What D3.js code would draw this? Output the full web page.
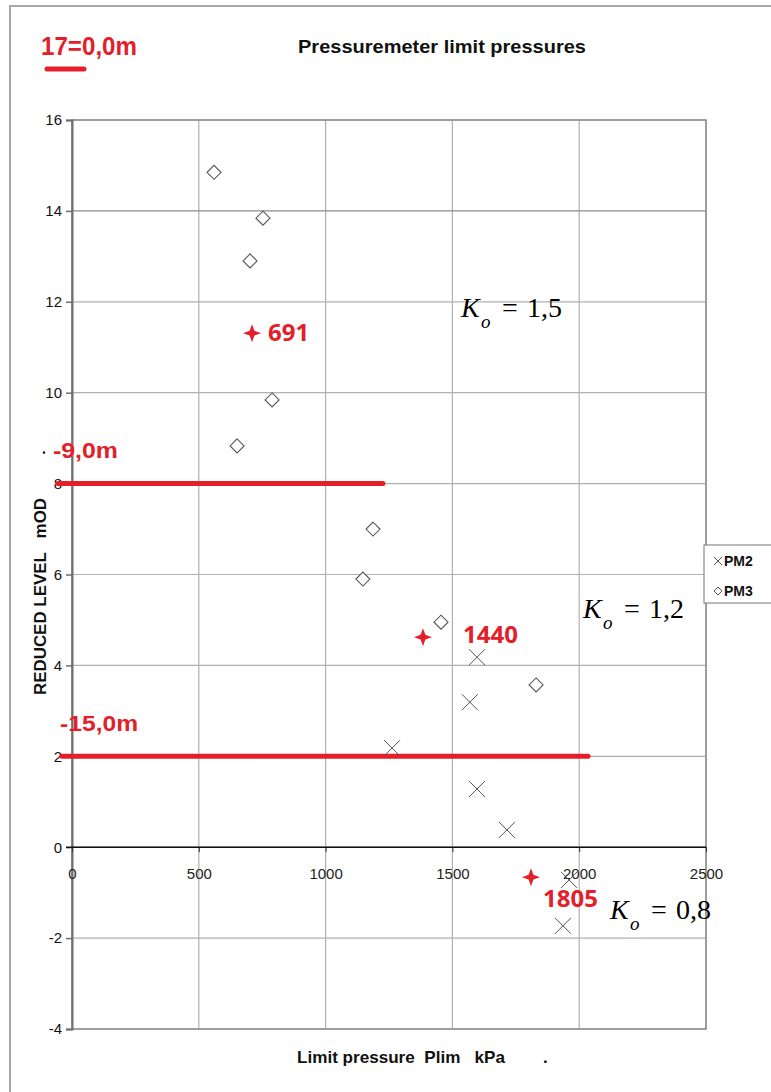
<!DOCTYPE html>
<html><head><meta charset="utf-8">
<script src="https://cdn.jsdelivr.net/npm/d3@7"></script>
<style>body{margin:0;background:#fff}svg{display:block}</style>
</head><body>
<svg id="c" width="771" height="1092"></svg>
<script>
// ---- data ----
const xTicks = [0, 500, 1000, 1500, 2000, 2500];
const yTicks = [-4, -2, 0, 2, 4, 6, 8, 10, 12, 14, 16];
const pm2X = [1597, 1569, 1262, 1597, 1715, 1960, 1936];
const pm2Y = [4.18, 3.19, 2.18, 1.28, 0.38, -0.72, -1.73];
const pm3X = [560, 753, 702, 789, 651, 1187, 1147, 1455, 1830];
const pm3Y = [14.85, 13.84, 12.9, 9.84, 8.83, 7.0, 5.9, 4.95, 3.57];
const starX = [710, 1384, 1810];
const starY = [11.31, 4.62, -0.66];
const starLabels = ["691", "1440", "1805"];
const levelLineY = [8, 2];
const levelLineX0 = [-55, -40];
const levelLineX1 = [1226, 2035];
const levelLabels = ["-9,0m", "-15,0m"];
const koLabels = ["1,5", "1,2", "0,8"];
const koX = [1534, 2015, 2121];
const koY = [11.67, 5.04, -1.58];
const seriesNames = ["PM2", "PM3"];

// ---- layout ----
const svg = d3.select("#c");
const x = d3.scaleLinear().domain([0, 2500]).range([72, 706]);
const y = d3.scaleLinear().domain([-4, 16]).range([1029, 120]);
const red = "#e3202a";
const sans = "Liberation Sans, Arial, sans-serif";

// outer frame
svg.append("rect").attr("x", 10).attr("y", 6).attr("width", 775).attr("height", 1100)
  .attr("fill", "none").attr("stroke", "#a8a8a8").attr("stroke-width", 2);

// grid
svg.append("g").selectAll("line").data(xTicks).join("line")
  .attr("x1", d => x(d)).attr("x2", d => x(d)).attr("y1", y(16)).attr("y2", y(-4))
  .attr("stroke", "#b0b0b0").attr("stroke-width", 1.2);
svg.append("g").selectAll("line").data(yTicks).join("line")
  .attr("x1", x(0)).attr("x2", x(2500)).attr("y1", d => y(d)).attr("y2", d => y(d))
  .attr("stroke", d => d === 14 ? "#8a8a8a" : "#b0b0b0").attr("stroke-width", 1.2);

// plot border
svg.append("rect").attr("x", x(0)).attr("y", y(16)).attr("width", x(2500) - x(0)).attr("height", y(-4) - y(16))
  .attr("fill", "none").attr("stroke", "#8c8c8c").attr("stroke-width", 1.5);

// y axis
const yAxis = svg.append("g").attr("transform", `translate(${x(0)},0)`)
  .call(d3.axisLeft(y).tickValues(yTicks).tickFormat(d => String(d)).tickSize(6).tickPadding(4));
yAxis.select(".domain").attr("stroke", "#6e6e6e").attr("stroke-width", 2);
yAxis.selectAll(".tick line").attr("stroke", "#6e6e6e").attr("stroke-width", 1.5);
yAxis.selectAll("text").attr("font-family", sans).attr("font-size", 15).attr("fill", "#111");

// x axis at 0
const xAxis = svg.append("g").attr("transform", `translate(0,${y(0)})`)
  .call(d3.axisBottom(x).tickValues(xTicks).tickFormat(d => String(d)).tickSize(5).tickPadding(16));
xAxis.select(".domain").remove();
svg.append("line").attr("x1", x(0) - 6).attr("x2", x(2500)).attr("y1", y(0)).attr("y2", y(0))
  .attr("stroke", "#111").attr("stroke-width", 1.6);
xAxis.selectAll(".tick line").attr("stroke", "#333");
xAxis.selectAll("text").attr("font-family", sans).attr("font-size", 15).attr("fill", "#222");

// red level lines
svg.append("g").selectAll("line").data(levelLineY).join("line")
  .attr("x1", (d, i) => x(levelLineX0[i])).attr("x2", (d, i) => x(levelLineX1[i]))
  .attr("y1", d => y(d)).attr("y2", d => y(d))
  .attr("stroke", red).attr("stroke-width", 5).attr("stroke-linecap", "round");

// level labels
svg.append("text").attr("x", x(-75)).attr("y", y(8) - 26).text(levelLabels[0])
  .attr("textLength", 65).attr("lengthAdjust", "spacingAndGlyphs")
  .attr("fill", red).attr("font-family", sans).attr("font-weight", "bold").attr("font-size", 22);
svg.append("circle").attr("cx", 44).attr("cy", y(8) - 31).attr("r", 1.3).attr("fill", "#222");
svg.append("text").attr("x", x(-47)).attr("y", y(2) - 25).text(levelLabels[1])
  .attr("textLength", 78).attr("lengthAdjust", "spacingAndGlyphs")
  .attr("fill", red).attr("font-family", sans).attr("font-weight", "bold").attr("font-size", 22);

// PM3 diamonds
const pm3 = pm3X.map((v, i) => [v, pm3Y[i]]);
svg.append("g").selectAll("path").data(pm3).join("path")
  .attr("transform", d => `translate(${x(d[0])},${y(d[1])})`)
  .attr("d", "M0,-7L7,0L0,7L-7,0Z").attr("fill", "#fff").attr("stroke", "#555").attr("stroke-width", 1.1);

// PM2 crosses
const pm2 = pm2X.map((v, i) => [v, pm2Y[i]]);
svg.append("g").selectAll("path").data(pm2).join("path")
  .attr("transform", d => `translate(${x(d[0])},${y(d[1])})`)
  .attr("d", "M-8,-8L8,8M-8,8L8,-8").attr("fill", "none").attr("stroke", "#555").attr("stroke-width", 1);

// red stars
const stars = starX.map((v, i) => [v, starY[i], starLabels[i]]);
const star = "M0,-9 L2.4,-2.4 L9,0 L2.4,2.4 L0,9 L-2.4,2.4 L-9,0 L-2.4,-2.4Z";
svg.append("g").selectAll("path").data(stars).join("path")
  .attr("transform", d => `translate(${x(d[0])},${y(d[1])})`)
  .attr("d", star).attr("fill", red);
const labOff = [[16, 8], [40, 6], [12, 30]];
svg.append("g").selectAll("text").data(stars).join("text")
  .attr("x", (d, i) => x(d[0]) + labOff[i][0]).attr("y", (d, i) => y(d[1]) + labOff[i][1])
  .text(d => d[2]).attr("fill", red).attr("font-family", "Open Sans, Liberation Sans, sans-serif")
  .attr("font-weight", "bold").attr("font-size", 24);

// K_o labels
koLabels.forEach((v, i) => {
  const g = svg.append("g").attr("transform", `translate(${x(koX[i])},${y(koY[i])})`)
    .attr("font-family", "Liberation Serif, Times New Roman, serif").attr("fill", "#000");
  g.append("text").attr("x", 0).attr("font-style", "italic").attr("font-size", 28).text("K");
  g.append("text").attr("x", 20).attr("y", 11).attr("font-style", "italic").attr("font-size", 19).text("o");
  g.append("text").attr("x", 41).attr("font-size", 28).text("=");
  g.append("text").attr("x", 66).attr("font-size", 28).text(v);
});

// title & top-left label
svg.append("text").attr("x", 298).attr("y", 53).text("Pressuremeter limit pressures")
  .attr("textLength", 288).attr("lengthAdjust", "spacingAndGlyphs")
  .attr("font-family", sans).attr("font-weight", "bold").attr("font-size", 18).attr("fill", "#111");
svg.append("text").attr("x", 41).attr("y", 55).text("17=0,0m")
  .attr("textLength", 96).attr("lengthAdjust", "spacingAndGlyphs")
  .attr("font-family", sans).attr("font-weight", "bold").attr("font-size", 25).attr("fill", red);
svg.append("line").attr("x1", 47).attr("x2", 84).attr("y1", 69).attr("y2", 69)
  .attr("stroke", red).attr("stroke-width", 5).attr("stroke-linecap", "round");

// axis titles
svg.append("text").attr("transform", "translate(46,695) rotate(-90)")
  .text("REDUCED LEVEL   mOD").style("white-space", "pre")
  .attr("textLength", 197).attr("lengthAdjust", "spacingAndGlyphs")
  .attr("font-family", sans).attr("font-weight", "bold").attr("font-size", 16).attr("fill", "#111");
svg.append("text").attr("x", 297).attr("y", 1063).text("Limit pressure  Plim   kPa").style("white-space", "pre")
  .attr("textLength", 208).attr("lengthAdjust", "spacingAndGlyphs")
  .attr("font-family", sans).attr("font-weight", "bold").attr("font-size", 17).attr("fill", "#111");
svg.append("text").attr("x", 543).attr("y", 1063).text(".")
  .attr("font-family", sans).attr("font-weight", "bold").attr("font-size", 17).attr("fill", "#111");

// legend
const lg = svg.append("g").attr("transform", "translate(704,545)");
lg.append("rect").attr("width", 80).attr("height", 58).attr("fill", "#fff").attr("stroke", "#777").attr("stroke-width", 1);
seriesNames.forEach((n, i) => {
  const cy = 16 + i * 30;
  if (i === 0) lg.append("path").attr("d", `M10,${cy - 4}L18,${cy + 4}M10,${cy + 4}L18,${cy - 4}`).attr("stroke", "#555").attr("fill", "none");
  else lg.append("path").attr("d", `M14,${cy - 4}L18,${cy}L14,${cy + 4}L10,${cy}Z`).attr("stroke", "#555").attr("fill", "#fff");
  lg.append("text").attr("x", 20).attr("y", cy + 5).text(n)
    .attr("font-family", sans).attr("font-weight", "bold").attr("font-size", 14).attr("fill", "#111");
});
</script>
</body></html>
